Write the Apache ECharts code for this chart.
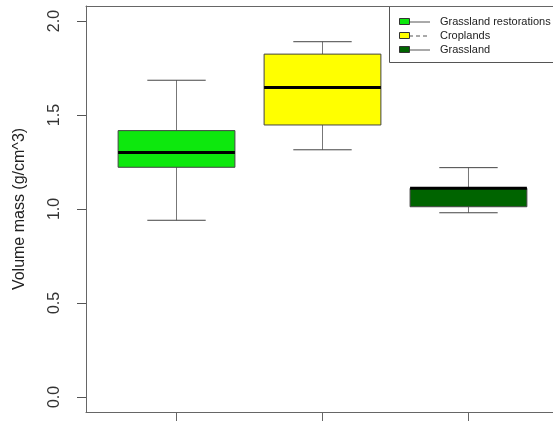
<!DOCTYPE html>
<html>
<head>
<meta charset="utf-8">
<script src="https://cdn.jsdelivr.net/npm/echarts@6/dist/echarts.min.js"></script>
<style>html,body{margin:0;padding:0;background:#fff;overflow:hidden;}body{width:553px;height:422px;position:relative;}#chart{position:absolute;left:0;top:0;width:600px;height:422px;}</style>
</head>
<body>
<div id="chart"></div>
<script>
const categories = ['Grassland restorations', 'Croplands', 'Grassland'];
const whiskerLow = [0.94, 1.315, 0.98];
const quartile1 = [1.222, 1.447, 1.012];
const medians = [1.30, 1.647, 1.11];
const quartile3 = [1.417, 1.824, 1.11];
const whiskerHigh = [1.685, 1.89, 1.22];
const outliers = [[3, 0.786]];
const boxColors = ['#0de80d', '#ffff00', '#006400'];
const legendDash = ['solid', [4, 3], 'solid'];
const yTicks = [0, 0.5, 1.0, 1.5, 2.0];
const xTicks = [1, 2, 3];

const boxData = categories.map((c, i) => [i + 1, whiskerLow[i], quartile1[i], medians[i], quartile3[i], whiskerHigh[i]]);

const chart = echarts.init(document.getElementById('chart'), null, {renderer: 'canvas'});
const FONT = 'Liberation Sans, Arial, sans-serif';
const FRAME = '#666';

const legendChildren = [
  {type: 'rect', shape: {x: 389.5, y: 6.5, width: 180, height: 56}, style: {fill: '#fff', stroke: '#555', lineWidth: 1}}
];
categories.forEach((c, i) => {
  const cy = 22 + i * 14;
  legendChildren.push({type: 'line', shape: {x1: 409, y1: cy, x2: 430, y2: cy}, style: {stroke: '#555', lineWidth: 1, lineDash: legendDash[i] === 'solid' ? null : legendDash[i]}});
  legendChildren.push({type: 'rect', shape: {x: 399.5, y: cy - 3.5, width: 10, height: 6}, style: {fill: boxColors[i], stroke: '#333', lineWidth: 1}});
  legendChildren.push({type: 'text', style: {x: 440, y: cy, text: c, fontSize: 11, fontFamily: FONT, fill: '#222', verticalAlign: 'middle', align: 'left'}});
});

chart.setOption({
  animation: false,
  grid: {left: 86, top: 6, width: 473, height: 406, show: false, outerBoundsMode: 'none'},
  xAxis: [{
    type: 'value', min: 0.38, max: 3.62, position: 'bottom',
    splitLine: {show: false},
    axisLine: {show: true, onZero: false, lineStyle: {color: FRAME}},
    axisTick: {show: true, customValues: xTicks, length: 9, lineStyle: {color: FRAME}},
    axisLabel: {show: false}
  }, {
    type: 'value', min: 0.38, max: 3.62, position: 'top',
    splitLine: {show: false},
    axisLine: {show: true, onZero: false, lineStyle: {color: FRAME}},
    axisTick: {show: false},
    axisLabel: {show: false}
  }],
  yAxis: {
    type: 'value', min: -0.08, max: 2.08,
    name: 'Volume mass (g/cm^3)', nameLocation: 'middle', nameGap: 58,
    nameTextStyle: {fontSize: 16, fontFamily: FONT, color: '#222'},
    splitLine: {show: false},
    axisLine: {show: true, onZero: false, lineStyle: {color: FRAME}},
    axisTick: {show: true, customValues: yTicks, length: 9, lineStyle: {color: '#555'}},
    axisLabel: {customValues: yTicks, rotate: 90, fontSize: 16, fontFamily: FONT, color: '#333', margin: 23, formatter: v => v.toFixed(1)}
  },
  series: [
    {
      type: 'custom',
      data: boxData,
      renderItem: function (params, api) {
        const x = api.value(0);
        const i = params.dataIndex;
        const pLo = api.coord([x, api.value(1)]);
        const pQ1 = api.coord([x, api.value(2)]);
        const pMed = api.coord([x, api.value(3)]);
        const pQ3 = api.coord([x, api.value(4)]);
        const pHi = api.coord([x, api.value(5)]);
        const halfBox = api.size([0.4, 0])[0];
        const halfCap = api.size([0.2, 0])[0];
        const cx = pMed[0];
        return {
          type: 'group',
          children: [
            {type: 'line', shape: {x1: cx, y1: pHi[1], x2: cx, y2: pQ3[1]}, style: {stroke: '#777', lineWidth: 1}},
            {type: 'line', shape: {x1: cx, y1: pQ1[1], x2: cx, y2: pLo[1]}, style: {stroke: '#777', lineWidth: 1}},
            {type: 'line', shape: {x1: cx - halfCap, y1: pHi[1], x2: cx + halfCap, y2: pHi[1]}, style: {stroke: '#444', lineWidth: 1}},
            {type: 'line', shape: {x1: cx - halfCap, y1: pLo[1], x2: cx + halfCap, y2: pLo[1]}, style: {stroke: '#444', lineWidth: 1}},
            {type: 'rect', shape: {x: cx - halfBox, y: pQ3[1], width: 2 * halfBox, height: pQ1[1] - pQ3[1]}, style: {fill: boxColors[i], stroke: '#444', lineWidth: 1}},
            {type: 'line', shape: {x1: cx - halfBox, y1: pMed[1], x2: cx + halfBox, y2: pMed[1]}, style: {stroke: '#000', lineWidth: 3}}
          ]
        };
      }
    },
    {
      type: 'scatter',
      data: outliers,
      symbol: 'emptyCircle',
      symbolSize: 6,
      itemStyle: {color: '#fff', borderColor: '#555', borderWidth: 1}
    }
  ],
  graphic: [{type: 'group', children: legendChildren}]
});
</script>
</body>
</html>
